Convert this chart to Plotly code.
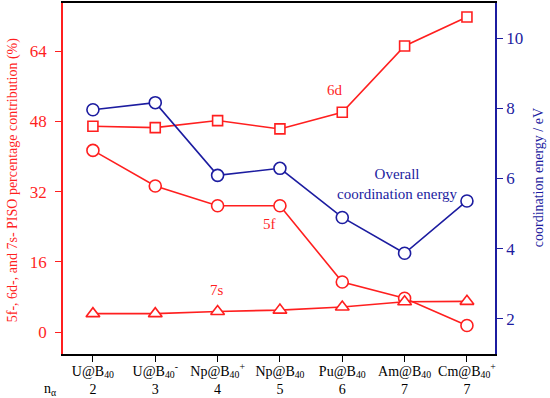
import plotly.graph_objects as go

categories = ["U@B<sub>40</sub>", "U@B<sub>40</sub><sup>-</sup>", "Np@B<sub>40</sub><sup>+</sup>",
              "Np@B<sub>40</sub>", "Pu@B<sub>40</sub>", "Am@B<sub>40</sub>", "Cm@B<sub>40</sub><sup>+</sup>"]
n_alpha = ["2", "3", "4", "5", "6", "7", "7"]
pct_6d = [46.9, 46.6, 48.2, 46.3, 50.1, 65.2, 71.8]
pct_5f = [41.4, 33.3, 28.8, 28.8, 11.4, 7.7, 1.5]
pct_7s = [4.2, 4.2, 4.7, 5.0, 5.7, 6.9, 7.0]
coord_energy = [7.96, 8.16, 6.09, 6.29, 4.89, 3.87, 5.36]

RED = "#ff1f1f"
BLUE = "#1c1ca0"
FONT = "Liberation Serif"

xs = list(range(len(categories)))
ticktext = [f"{c}<br>{n}" for c, n in zip(categories, n_alpha)]

fig = go.Figure()


def add(y, sym, color, size, axis="y"):
    fig.add_trace(go.Scatter(
        x=xs, y=y, yaxis=axis, mode="lines+markers",
        line=dict(color=color, width=1.6),
        marker=dict(symbol=sym, size=size, color="white",
                    line=dict(color=color, width=1.6)),
        showlegend=False, cliponaxis=False, hoverinfo="skip"))


add(pct_6d, "square", RED, 10)
add(pct_5f, "circle", RED, 12)
add(pct_7s, "triangle-up", RED, 12)
add(coord_energy, "circle", BLUE, 12, "y2")

fig.update_layout(
    width=550, height=398,
    margin=dict(l=63, r=55, t=3, b=44, autoexpand=False),
    paper_bgcolor="white", plot_bgcolor="white",
    font=dict(family=FONT, size=15, color="black"),
    xaxis=dict(range=[-0.48, 6.45], tickvals=xs, ticktext=ticktext,
               showgrid=False, zeroline=False, showline=True, linecolor="black",
               linewidth=1.5, mirror=True, ticks="outside", ticklen=6,
               tickcolor="black", tickfont=dict(size=14, family=FONT),
               automargin=False, ticklabelstandoff=-3),
    yaxis=dict(range=[-5, 75], tickvals=[0, 16, 32, 48, 64], showgrid=False,
               zeroline=False, showline=True, linecolor=RED, linewidth=1.5,
               ticks="outside", ticklen=6, tickcolor=RED, automargin=False,
               ticklabelstandoff=5,
               tickfont=dict(size=17, color=RED, family=FONT)),
    yaxis2=dict(range=[1, 11], tickvals=[2, 4, 6, 8, 10], overlaying="y",
                side="right", showgrid=False, zeroline=False, showline=True,
                linecolor=BLUE, linewidth=1.5, ticks="outside", ticklen=6,
                tickcolor=BLUE, automargin=False,
                tickfont=dict(size=17, color=BLUE, family=FONT)),
)

W, H = 432, 350.5


def px(x):
    return (x - 63) / W


def py(y):
    return 1 - (y - 3) / H


ann = [
    dict(text="5f-, 6d-, and 7s- PISO percentage contribution (%)", x=px(13), y=py(180),
         textangle=-90, font=dict(size=14, color=RED)),
    dict(text="coordination energy / eV", x=px(538), y=py(178),
         textangle=-90, font=dict(size=14, color=BLUE)),
    dict(text="6d", x=px(335), y=py(90), font=dict(size=15, color=RED)),
    dict(text="5f", x=px(269), y=py(224), font=dict(size=15, color=RED)),
    dict(text="7s", x=px(217), y=py(290), font=dict(size=15, color=RED)),
    dict(text="Overall<br>coordination energy", x=px(397), y=py(184),
         font=dict(size=15, color=BLUE)),
    dict(text="n<sub>α</sub>", x=px(50), y=py(389), font=dict(size=14, color="black")),
]
for a in ann:
    fig.add_annotation(xref="paper", yref="paper", showarrow=False,
                       xanchor="center", yanchor="middle", **a)

fig.write_html("out.html", config={"displayModeBar": False},
               post_script="document.body.style.margin='0';document.body.style.overflow='hidden';")
